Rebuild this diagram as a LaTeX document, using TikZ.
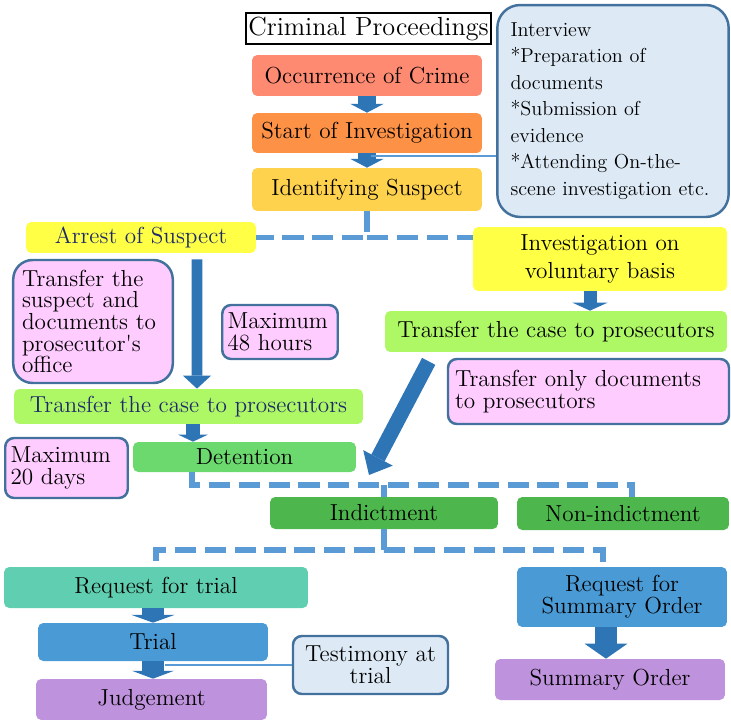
\documentclass[tikz,border=0pt]{standalone}
\usetikzlibrary{arrows.meta}

\definecolor{crimered}{HTML}{FF8A72}
\definecolor{startorange}{HTML}{FD9146}
\definecolor{suspectgold}{HTML}{FFD24E}
\definecolor{arrestyellow}{HTML}{FFFF45}
\definecolor{limegreen}{HTML}{AEF866}
\definecolor{detentiongreen}{HTML}{6CD96F}
\definecolor{indictgreen}{HTML}{4DB74D}
\definecolor{trialteal}{HTML}{60CFB1}
\definecolor{trialblue}{HTML}{4A9BD5}
\definecolor{orderpurple}{HTML}{BE92DC}
\definecolor{notepink}{HTML}{FFCCFF}
\definecolor{notepale}{HTML}{DDEAF6}
\definecolor{noteline}{HTML}{41719C}
\definecolor{arrowblue}{HTML}{2E75B6}
\definecolor{linkblue}{HTML}{5B9BD5}
\definecolor{navytext}{HTML}{1F2A6B}

\begin{document}
\begin{tikzpicture}[
    x=0.02cm,
    y=-0.02cm,
    heading/.style={
        rectangle,
        draw=black,
        line width=1.1pt,
        fill=white,
        inner sep=0pt,
        font=\fontsize{14.9}{17}\selectfont
    },
    stage/.style={
        rectangle,
        rounded corners=3pt,
        inner sep=2pt,
        font=\fontsize{13.2}{12.3}\selectfont,
        align=center
    },
    note/.style={
        rectangle,
        rounded corners=5pt,
        draw=noteline,
        line width=1.4pt,
        fill=notepink,
        inner xsep=3pt,
        inner ysep=2pt,
        font=\fontsize{13.2}{12.3}\selectfont,
        align=left
    },
    flow/.style n args={3}{
        draw=arrowblue,
        line width=#1,
        -{Triangle[width=#2,length=#3,line width=0pt]}
    },
    dashlink/.style={
        draw=linkblue,
        line width=3.4pt,
        dash pattern=on 12pt off 5pt
    },
    callout/.style={
        draw=linkblue,
        line width=1.1pt
    }
]
\useasboundingbox (0,0) rectangle (731,720);

% Title
\node[heading, minimum width=4.9cm, minimum height=0.62cm] (title) at (368.5,28.5) {Criminal Proceedings};

% Start of the case
\node[stage, fill=crimered, minimum width=4.6cm, minimum height=0.82cm] (crime) at (367,75.5) {Occurrence of Crime};
\node[stage, fill=startorange, minimum width=4.6cm, minimum height=0.8cm] (start) at (367,133) {Start of Investigation};
\node[stage, fill=suspectgold, minimum width=4.6cm, minimum height=0.86cm] (suspect) at (367,189.5) {Identifying Suspect};

\node[note, fill=notepale, rounded corners=13pt, text width=4.1cm, inner xsep=7.5pt,
      minimum height=4.24cm, font=\fontsize{11.5}{15.1}\selectfont] (interview) at (613,111)
    {Interview\\ {*}Preparation of\\ documents\\ {*}Submission of\\ evidence\\ {*}Attending On-the-\\ scene investigation etc.};

% Arrest branch
\node[stage, fill=arrestyellow, text=navytext, minimum width=4.6cm, minimum height=0.62cm] (arrest) at (141,237.5) {Arrest of Suspect};
\node[note, text width=2.84cm, inner xsep=5pt, rounded corners=11pt, minimum height=2.46cm] (handover) at (93,321.5)
    {Transfer the\\ suspect and\\ documents to\\ prosecutor\textquotesingle s\\ office};
\node[note, text width=2.1cm, minimum height=1.08cm] (hours) at (280,332) {Maximum\\ 48 hours};
\node[stage, fill=limegreen, text=navytext, minimum width=6.98cm, minimum height=0.7cm] (transL) at (188.5,406.5) {Transfer the case to prosecutors};
\node[note, text width=2.24cm, minimum height=1.2cm] (days) at (66.5,468) {Maximum\\ 20 days};
\node[stage, fill=detentiongreen, minimum width=4.46cm, minimum height=0.6cm] (detention) at (244.5,457) {Detention};

% Voluntary branch
\node[stage, fill=arrestyellow, minimum width=5.08cm, minimum height=1.28cm,
      font=\fontsize{13.2}{16}\selectfont] (voluntary) at (600,259) {Investigation on\\ voluntary basis};
\node[stage, fill=limegreen, minimum width=6.84cm, minimum height=0.82cm] (transR) at (556,331.5) {Transfer the case to prosecutors};
\node[note, text width=5.34cm, inner xsep=4pt, minimum height=1.3cm] (papers) at (588.5,391.5)
    {Transfer only documents\\ to prosecutors};

% Decision
\node[stage, fill=indictgreen, minimum width=4.56cm, minimum height=0.64cm] (indict) at (384,513) {Indictment};
\node[stage, fill=indictgreen, minimum width=4.24cm, minimum height=0.66cm] (nonind) at (623,513.5) {Non-indictment};

% Court
\node[stage, fill=trialteal, minimum width=6.08cm, minimum height=0.82cm] (reqtrial) at (156,587.5) {Request for trial};
\node[stage, fill=trialblue, minimum width=4.6cm, minimum height=0.76cm] (trial) at (153,642) {Trial};
\node[stage, fill=orderpurple, minimum width=4.62cm, minimum height=0.82cm] (judge) at (151.5,699.5) {Judgement};
\node[note, fill=notepale, align=center, minimum width=3.1cm, minimum height=1.16cm] (testimony) at (370.5,665)
    {Testimony at\\ trial};
\node[stage, fill=trialblue, minimum width=4.2cm, minimum height=1.2cm] (reqsum) at (622,597) {Request for\\ Summary Order};
\node[stage, fill=orderpurple, minimum width=4.6cm, minimum height=0.82cm] (summary) at (610,679.5) {Summary Order};

% Arrows
\draw[flow={10pt}{19pt}{5pt}] (crime) -- (start);
\draw[flow={10pt}{19pt}{5pt}] (start) -- (suspect);
\coordinate (tapA) at (371,156);
\draw[callout] (tapA) -- (tapA -| interview.west);

\draw[dashlink] (suspect.south) -- (suspect.south |- arrest.east) coordinate (forkA) -- (arrest.east);
\draw[dashlink] (forkA) -- (forkA -| voluntary.west);

\draw[flow={6.2pt}{16pt}{7.4pt}] ([shift={(56,6)}]arrest.south) -- ([xshift=1.12cm]arrest.south |- transL.north);
\draw[flow={8.5pt}{17pt}{4pt}] ([xshift=0.09cm]transL.south) -- ([xshift=0.09cm]transL.south |- detention.north);
\draw[flow={7.4pt}{19.8pt}{4.5pt}] ([xshift=-0.2cm]voluntary.south) -- ([xshift=-0.2cm]voluntary.south |- transR.north);
\coordinate (dropTip) at (369,475);
\draw[flow={8.5pt}{19pt}{11pt}] ([shift={(44,9)}]transR.south west) -- (dropTip);

\draw[dashlink] ([xshift=-1.05cm]detention.south) -- ++(0,13) coordinate (forkB) -| ([xshift=0.18cm]nonind.north);
\draw[dashlink] (indict.north) -- (indict.north |- forkB);

\draw[dashlink] (indict.south) -- ++(0,21) coordinate (forkC) -| (reqtrial.north);
\draw[dashlink] (forkC) -| ([xshift=-0.38cm]reqsum.north);

\draw[flow={12.5pt}{25pt}{4.5pt}] (trial.north |- reqtrial.south) -- (trial.north);
\draw[flow={12.5pt}{24pt}{4.5pt}] (trial.south) -- (trial.south |- judge.north);
\coordinate (tapB) at (165,665);
\draw[callout] (testimony.west) -- (tapB);
\draw[flow={12.5pt}{24.4pt}{8.5pt}] ([xshift=-0.32cm]reqsum.south) -- ([xshift=-0.32cm]reqsum.south |- summary.north);

\end{tikzpicture}
\end{document}
